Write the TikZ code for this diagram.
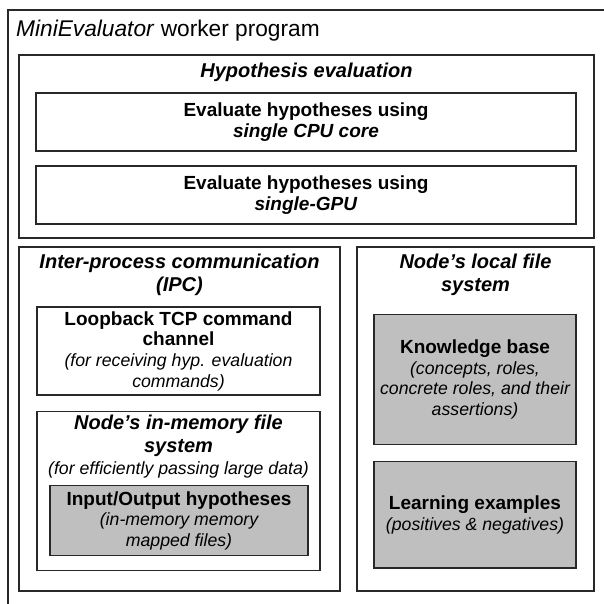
\documentclass[tikz,border=0pt]{standalone}
\usepackage{fontspec}
\setmainfont{Liberation Sans}
\newcommand\hdfont{\fontsize{20}{22.7}\selectfont\bfseries\itshape}
\newcommand\bxfont{\fontsize{19}{20.7}\selectfont\bfseries}
\newcommand\ntfont{\fontsize{17.7}{20.7}\selectfont\mdseries\itshape}
\newcommand\ttlfont{\fontsize{22.7}{26}\selectfont}
\definecolor{boxgray}{RGB}{191,191,191}
\definecolor{edge}{RGB}{40,40,40}
\tikzset{
  frame/.style={draw=edge, line width=1.2pt, inner sep=0pt, rectangle, fill=white},
  shaded/.style={frame, fill=boxgray},
  label/.style={align=center, inner sep=0pt},
}
\begin{document}
\begin{tikzpicture}[x=1pt,y=-1pt]
\useasboundingbox (0,0) rectangle (604,603);
\clip (0,0) rectangle (604,603);
% outer frame
\node[frame, minimum width=612pt, minimum height=610pt] (outer) at (314,315) {};
\node[anchor=base west, inner sep=0pt, font=\ttlfont] (title) at (16,36) {\textit{MiniEvaluator} worker program};
% hypothesis evaluation
\node[frame, minimum width=575pt, minimum height=183pt] (hyp) at (306.5,146.5) {};
\node[label, font=\hdfont] (hyptitle) at (306.5,72) {Hypothesis evaluation};
\node[frame, minimum width=540pt, minimum height=58pt, label, font=\bxfont] (cpu) at (306,122) {Evaluate hypotheses using\\\textit{single CPU core}};
\node[frame, minimum width=540pt, minimum height=58pt, label, font=\bxfont] (gpu) at (306,195) {Evaluate hypotheses using\\\textit{single-GPU}};
% IPC
\node[frame, minimum width=321pt, minimum height=344pt] (ipc) at (179.5,419) {};
\node[label, font=\hdfont] (ipctitle) at (179.5,274.7) {Inter-process communication\\(IPC)};
\node[frame, minimum width=283pt, minimum height=88pt, label, font=\bxfont] (loop) at (178.5,351) {Loopback TCP command\\channel\\{\ntfont (for receiving hyp. evaluation}\\{\ntfont commands)}};
\node[frame, minimum width=283pt, minimum height=159pt] (inmem) at (178.5,491.2) {};
\node[label, font=\hdfont] (inmemtitle) at (178.5,446.7) {Node's in-memory file\\system\\{\ntfont (for efficiently passing large data)}};
\node[shaded, minimum width=258pt, minimum height=70pt, label, font=\bxfont] (io) at (179,520.7) {Input/Output hypotheses\\{\ntfont (in-memory memory}\\{\ntfont mapped files)}};
% local file system
\node[frame, minimum width=237pt, minimum height=344pt] (local) at (475.5,419) {};
\node[label, font=\hdfont] (localtitle) at (475.5,274.7) {Node's local file\\system};
\node[shaded, minimum width=202pt, minimum height=130.4pt, label, font=\bxfont] (kb) at (475,379.5) {Knowledge base\\{\ntfont (concepts, roles,}\\{\ntfont concrete roles, and their}\\{\ntfont assertions)}};
\node[shaded, minimum width=202pt, minimum height=106.3pt, label, font=\bxfont] (learn) at (475,514.85) {Learning examples\\{\ntfont (positives \& negatives)}};
\end{tikzpicture}
\end{document}
